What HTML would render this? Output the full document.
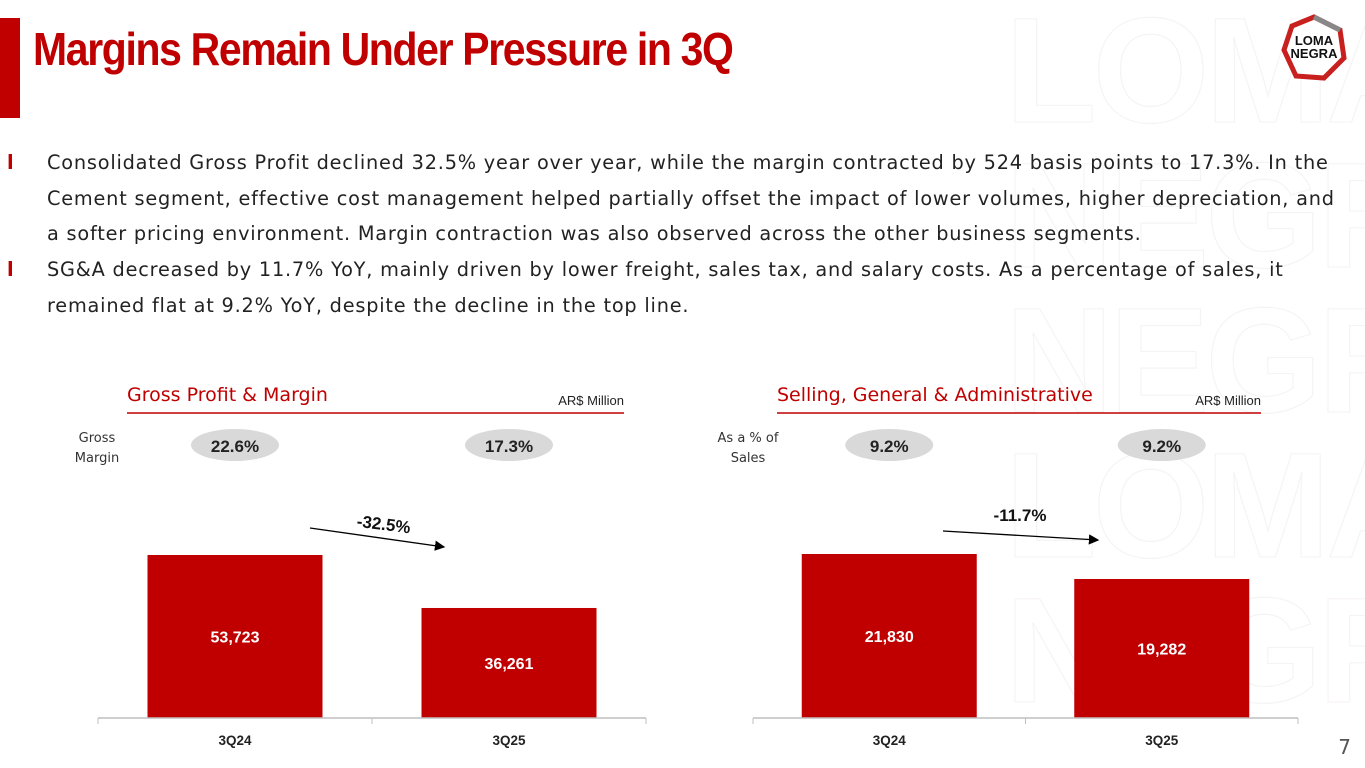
<!DOCTYPE html>
<html><head><meta charset="utf-8">
<style>
body{margin:0;width:1365px;height:768px;overflow:hidden;background:#fff;font-family:"DejaVu Sans","Liberation Sans",sans-serif;position:relative}
.wm{position:absolute;left:1005px;font:bold 150px/1 "Liberation Sans Narrow","Liberation Sans",sans-serif;color:transparent;-webkit-text-stroke:1.2px #f6f3f3;letter-spacing:-4px}
#bar{position:absolute;left:0;top:18px;width:20px;height:100px;background:#c00000}
#title{position:absolute;left:33px;top:26px;font:bold 46px/1 "Liberation Sans Narrow","Liberation Sans",sans-serif;color:#c00000;letter-spacing:-1.5px;transform:scaleX(0.89);transform-origin:left}
.bul{position:absolute;left:47px;width:1305px;font-size:19.3px;letter-spacing:0.8px;line-height:35.7px;color:#222}
.bul i{position:absolute;left:-40px;color:#c00000;font-style:normal;font-weight:bold}
</style></head><body>
<div class="wm" style="top:-5px">LOMA</div>
<div class="wm" style="top:140px">NEGRA</div>
<div class="wm" style="top:285px">NEGRA</div>
<div class="wm" style="top:430px">LOMA</div>
<div class="wm" style="top:575px">NEGRA</div>
<div id="bar"></div>
<div id="title">Margins Remain Under Pressure in 3Q</div>
<svg style="position:absolute;left:1280px;top:14px" width="68" height="68">
<polygon points="34,3 60,16 64,44 44,64 16,62 4,36 12,12" fill="#fff" stroke="#c8201e" stroke-width="5"/>
<path d="M34,3 L60,16" stroke="#888" stroke-width="5"/>
<text x="34" y="31" text-anchor="middle" font-family="Liberation Sans Narrow,Liberation Sans,sans-serif" font-weight="bold" font-size="13" fill="#111">LOMA</text>
<text x="34" y="44" text-anchor="middle" font-family="Liberation Sans Narrow,Liberation Sans,sans-serif" font-weight="bold" font-size="13" fill="#111">NEGRA</text>
</svg>
<div class="bul" style="top:145px"><i>l</i>Consolidated Gross Profit declined 32.5% year over year, while the margin contracted by 524 basis points to 17.3%. In the Cement segment, effective cost management helped partially offset the impact of lower volumes, higher depreciation, and a softer pricing environment. Margin contraction was also observed across the other business segments.</div>
<div class="bul" style="top:252px"><i>l</i>SG&amp;A decreased by 11.7% YoY, mainly driven by lower freight, sales tax, and salary costs. As a percentage of sales, it remained flat at 9.2% YoY, despite the decline in the top line.</div>
<div style="position:absolute;right:14px;top:735px;font-size:20px;color:#555">7</div>
<svg id="ch" style="position:absolute;left:0;top:0" width="1365" height="768">
<defs><marker id="ah" markerWidth="8" markerHeight="8" refX="7" refY="4" orient="auto"><path d="M0,0 L8,4 L0,8z" fill="#000"/></marker></defs>
</svg>
<script>
const categories=["3Q24","3Q25"];
const grossProfit=[53723,36261];
const grossMargin=["22.6%","17.3%"];
const sga=[21830,19282];
const sgaPct=["9.2%","9.2%"];
const ns="http://www.w3.org/2000/svg";
const svg=document.getElementById('ch');
function mk(t,a,txt){const e=document.createElementNS(ns,t);for(const k in a)e.setAttribute(k,a[k]);if(txt!==undefined)e.textContent=txt;svg.appendChild(e);return e;}
function chart(o){
  const x0=o.x0,x1=o.x1,base=718,w=(x1-x0)/categories.length;
  const y=v=>base-(v-o.d0)*o.k;
  let t=mk('text',{x:o.tx,y:401,fill:'#c00000','font-size':19,'font-family':'DejaVu Sans, sans-serif'},o.title);
  
  t=mk('text',{x:o.ux,y:405,'font-size':13,'text-anchor':'end',fill:'#222','font-family':'Liberation Sans, sans-serif'},'AR$ Million');
  
  let l=mk('line',{x1:o.tx,x2:o.ux,y1:413,y2:413,stroke:'#c00000','stroke-width':1.5});
  
  o.lab.forEach((s,i)=>{t=mk('text',{x:o.lx,y:442+i*20,'font-size':13,'text-anchor':'middle',fill:'#333'},s);
    });
  categories.forEach((c,i)=>{
    const cx=x0+w*(i+0.5);
    let e=mk('ellipse',{cx:cx,cy:445,rx:44,ry:16,fill:'#d9d9d9'});
    
    t=mk('text',{x:cx,y:452,'text-anchor':'middle','font-weight':'bold','font-size':17,fill:'#222','font-family':'Liberation Sans, sans-serif'},o.pct[i]);
    
    const top=y(o.vals[i]);
    let r=mk('rect',{x:cx-87.5,y:top,width:175,height:base-top,fill:'#c00000'});
    
    t=mk('text',{x:cx,y:(top+base)/2+6,'text-anchor':'middle','font-weight':'bold','font-size':16,fill:'#fff','font-family':'Liberation Sans, sans-serif'},o.vals[i].toLocaleString('en-US'));
    
    t=mk('text',{x:cx,y:745,'text-anchor':'middle','font-weight':'bold','font-size':13.5,fill:'#222','font-family':'Liberation Sans, sans-serif'},c);
    
  });
  l=mk('line',{x1:x0,x2:x1,y1:base,y2:base,stroke:'#bfbfbf','stroke-width':1.5});
  
  for(let i=0;i<=categories.length;i++){l=mk('line',{x1:x0+w*i,x2:x0+w*i,y1:base,y2:base+6,stroke:'#bfbfbf'});
    }
  const a=o.arrow;
  l=mk('line',{x1:a[0],y1:a[1],x2:a[2],y2:a[3],stroke:'#000','stroke-width':1.3,'marker-end':'url(#ah)'});
  
  t=mk('text',{x:a[4],y:a[5],'text-anchor':'middle','font-weight':'bold','font-size':17,fill:'#111','font-family':'Liberation Sans, sans-serif',transform:`rotate(${a[6]} ${a[4]} ${a[5]})`},o.chg);
  
}
chart({x0:98,x1:646,d0:0,k:163/53723,vals:grossProfit,pct:grossMargin,title:'Gross Profit & Margin',tx:127,ux:624,lab:['Gross','Margin'],lx:97,
  arrow:[310,528,444,547,383,530,7],chg:'-32.5%'});
chart({x0:753,x1:1298,d0:5113,k:164/(21830-5113),vals:sga,pct:sgaPct,title:'Selling, General & Administrative',tx:777,ux:1261,lab:['As a % of','Sales'],lx:748,
  arrow:[943,531,1098,540,1020,521,0],chg:'-11.7%'});
</script>
</body></html>
